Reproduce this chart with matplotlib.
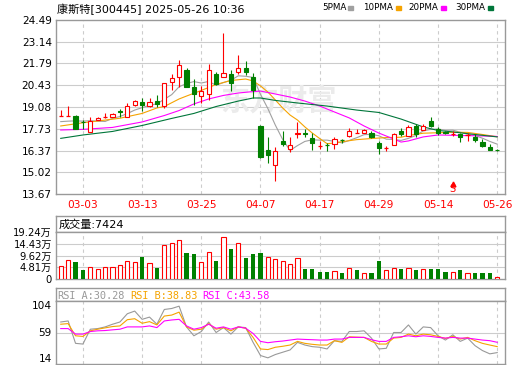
import matplotlib
matplotlib.use('Agg')
import matplotlib.pyplot as plt
from matplotlib.patches import Rectangle

plt.rcParams['font.family'] = ['DejaVu Sans', 'Noto Sans CJK SC']

W, H = 520, 365
RED = '#ff0000'
GREEN = '#008000'
GRID = '#cccccc'
EDGE = '#999999'

title = '康斯特[300445] 2025-05-26 10:36'

# x axis labels (candle index -> date)
dates = ['03-03', '03-13', '03-25', '04-07', '04-17', '04-29', '05-14', '05-26']
date_idx = [3, 11, 19, 27, 35, 43, 51, 59]

# daily candles 02-26 .. 05-26
opens = [18.52, 18.54, 18.55, 18.16, 17.54, 18.27, 18.43, 18.48, 18.82, 18.48,
         19.20, 19.41, 19.16, 19.47, 19.17, 20.65, 20.96, 21.38, 20.34, 19.78,
         19.87, 21.11, 20.96, 21.11, 21.24, 21.52, 20.96, 17.90, 16.41, 15.47,
         16.98, 16.45, 17.40, 17.47, 17.13, 16.65, 16.74, 16.78, 17.00, 17.28,
         17.48, 17.48, 17.45, 16.86, 16.50, 16.72, 17.59, 17.28, 17.90, 17.65,
         18.21, 17.69, 17.50, 17.43, 17.38, 17.33, 17.23, 16.92, 16.61, 16.42]
highs = [18.89, 19.16, 18.58, 18.27, 18.44, 18.46, 18.73, 18.73, 18.96, 19.33,
         19.52, 19.62, 19.66, 19.83, 20.57, 21.11, 22.00, 21.50, 20.80, 20.40,
         21.74, 21.26, 23.70, 21.38, 22.31, 21.94, 21.18, 17.95, 17.23, 16.61,
         17.59, 17.20, 18.17, 17.69, 17.45, 16.98, 16.86, 17.20, 17.07, 17.76,
         17.69, 17.69, 17.59, 16.98, 16.65, 17.48, 17.76, 17.96, 18.02, 18.02,
         18.44, 17.85, 17.60, 17.60, 17.48, 17.45, 17.38, 17.07, 16.76, 16.47]
lows = [18.50, 18.50, 17.70, 17.73, 17.54, 18.25, 18.42, 18.48, 18.48, 18.48,
        19.14, 18.83, 19.08, 19.08, 19.02, 20.14, 20.34, 20.32, 19.20, 19.31,
        19.52, 20.45, 20.95, 20.08, 21.13, 21.07, 19.66, 15.91, 15.58, 14.50,
        16.66, 16.30, 17.13, 17.20, 16.41, 16.45, 16.36, 16.45, 16.86, 17.21,
        17.45, 17.46, 17.15, 16.14, 16.36, 16.70, 17.28, 17.27, 17.23, 17.63,
        17.82, 17.34, 17.38, 17.28, 16.92, 16.96, 16.92, 16.62, 16.39, 16.34]
closes = [18.54, 18.56, 17.71, 18.13, 18.23, 18.38, 18.45, 18.65, 18.74, 19.14,
          19.45, 19.20, 19.37, 19.25, 20.55, 20.86, 21.69, 20.34, 19.87, 20.08,
          21.38, 20.49, 21.18, 20.55, 21.49, 21.24, 20.14, 15.95, 16.10, 16.36,
          16.76, 16.72, 17.45, 17.43, 16.82, 16.67, 16.71, 17.07, 16.98, 17.59,
          17.50, 17.65, 17.20, 16.51, 16.52, 17.40, 17.38, 17.85, 17.40, 17.90,
          17.90, 17.48, 17.47, 17.45, 17.23, 17.34, 17.03, 16.67, 16.41, 16.39]

ma5 = [18.17, 18.20, 18.22, 18.20, 18.23, 18.20, 18.18, 18.37, 18.49, 18.67,
       18.89, 19.04, 19.18, 19.28, 19.56, 19.85, 20.34, 20.54, 20.66, 20.57,
       20.67, 20.43, 20.60, 20.74, 21.02, 20.99, 20.92, 19.87, 18.98, 17.96,
       17.06, 16.38, 16.68, 16.94, 17.04, 17.02, 17.02, 16.94, 16.85, 17.00,
       17.17, 17.36, 17.38, 17.29, 17.08, 17.06, 17.00, 17.13, 17.31, 17.59,
       17.69, 17.71, 17.63, 17.64, 17.51, 17.39, 17.30, 17.14, 16.94, 16.77]
ma10_idx = [0, 3, 5, 8, 11, 13, 14, 16, 17, 19, 21, 23, 25, 26, 27, 28, 29, 30, 31, 32,
            33, 34, 35, 36, 37, 38, 40, 42, 44, 46, 47, 49, 51, 53, 55, 57, 59]
ma10 = [17.90, 18.10, 18.21, 18.38, 18.68, 19.02, 19.11, 19.58, 19.76, 20.11,
        20.48, 20.73, 20.82, 20.70, 20.39, 20.01, 19.52, 19.02, 18.58, 18.27,
        17.84, 17.46, 17.12, 16.80, 16.84, 16.92, 17.05, 17.12, 17.18, 17.20,
        17.31, 17.45, 17.48, 17.51, 17.50, 17.37, 17.23]
ma20_idx = [0, 3, 7, 11, 14, 16, 18, 20, 22, 24, 26, 27, 29, 31, 33, 35, 37, 39, 41, 43,
            45, 46, 47, 49, 51, 54, 57, 59]
ma20 = [17.65, 17.69, 17.81, 18.15, 18.55, 18.86, 19.27, 19.58, 19.80, 19.95,
        20.04, 20.07, 19.89, 19.70, 19.45, 19.14, 18.77, 18.40, 17.90, 17.46,
        17.09, 16.90, 16.97, 17.22, 17.34, 17.31, 17.28, 17.25]
ma30_idx = [0, 3, 7, 11, 15, 18, 21, 24, 26, 27, 29, 32, 36, 40, 43, 46, 49, 51, 53, 56, 59]
ma30 = [17.13, 17.34, 17.56, 17.93, 18.37, 18.68, 19.11, 19.45, 19.64, 19.64,
        19.49, 19.33, 19.14, 18.89, 18.74, 18.33, 17.84, 17.62, 17.53, 17.37, 17.22]

price_ticks = [13.67, 15.02, 16.37, 17.73, 19.08, 20.43, 21.79, 23.14, 24.49]
signal_idx = 53

# volume, 万手
volume = [5.32, 7.64, 6.96, 3.68, 4.77, 4.09, 4.77, 4.77, 5.73, 7.23,
          6.82, 9.00, 6.41, 4.50, 13.78, 14.60, 15.83, 10.64, 10.23, 6.82,
          10.91, 7.37, 17.05, 12.28, 14.60, 8.60, 10.23, 10.70, 8.87, 8.05,
          7.23, 6.14, 8.46, 4.09, 4.09, 2.86, 2.86, 3.14, 2.46, 4.37,
          3.68, 2.32, 2.46, 7.37, 3.55, 4.37, 4.09, 4.37, 3.68, 3.96,
          4.09, 4.09, 2.86, 2.73, 3.68, 2.32, 2.46, 2.46, 2.46, 0.74]
vol_up = [1, 1, 0, 0, 1, 1, 1, 1, 1, 1, 1, 0, 1, 0, 1, 1, 1, 0, 0, 1,
          1, 0, 1, 0, 1, 0, 0, 0, 1, 1, 1, 1, 1, 0, 0, 0, 0, 1, 0, 1,
          0, 1, 0, 0, 1, 1, 0, 1, 0, 1, 0, 0, 0, 1, 0, 1, 0, 0, 0, 1]
vol_ticks = [0, 4.81, 9.62, 14.43, 19.24]
vol_last = 7424

rsi_a = [74, 75.5, 43.5, 42.5, 63.7, 64.6, 67, 70.8, 74, 85.8,
         89.6, 77.8, 81, 70.8, 91.9, 93.3, 96.6, 67, 54.3, 60.4,
         74, 59, 66, 56.7, 67, 66, 44.9, 26.1, 22.8, 27.5,
         30.8, 34.1, 44.9, 41.1, 38.8, 37.9, 35.5, 47.3, 46.3, 60.4,
         60.4, 61.4, 51, 35.5, 36.4, 59, 59, 69.8, 56.7, 67,
         66, 54.3, 48.2, 55.7, 46.3, 51, 40.2, 33.2, 28.5, 30.28]
rsi_b = [70.8, 71.7, 54.3, 53.4, 61.4, 63.7, 65.6, 67.5, 68.4, 77.3,
         78.7, 72.2, 74.5, 69.8, 82.5, 83.9, 88.1, 67, 62.3, 63.7,
         71.7, 63.7, 66, 61.4, 67, 65.1, 52, 35.5, 34.6, 37.9,
         39.3, 41.1, 46.3, 43.5, 42.1, 41.1, 41.1, 47.3, 44.9, 52.9,
         52.4, 52, 46.3, 42.5, 42.5, 51, 52, 56.7, 54.3, 56.7,
         55.7, 53.4, 50.5, 53.4, 49.6, 52, 47.3, 43.5, 41.1, 38.83]
rsi_c = [64.6, 64.6, 56.7, 56.7, 60.4, 61.4, 61.8, 62.8, 63.7, 67,
         67, 67, 68.4, 66, 75.5, 76.9, 77.8, 68.4, 63.7, 66,
         70.8, 65.1, 67, 63.7, 67, 65.1, 57.6, 46.3, 44.4, 45.8,
         46.8, 48.2, 49.6, 49.1, 48.7, 48.2, 48.2, 49.6, 49.6, 52,
         52, 52, 48.7, 46.3, 46.3, 52, 52.9, 54.3, 52.9, 54.3,
         53.4, 52, 51, 52, 51, 51, 49.6, 48.2, 47.3, 45.0]
rsi_ticks = [14, 59, 104]
rsi_now = [30.28, 38.83, 43.58]

MA_COLORS = ['#a0a0a0', '#f5a300', '#ff00ff', '#00763a']
RSI_COLORS = ['#999999', '#f5a300', '#ff00ff']


def box(l, t, r, b):
    return [l / W, 1 - b / H, (r - l) / W, (b - t) / H]


def frame(ax):
    ax.set_xlim(-0.64, 60.05)
    for s in ax.spines.values():
        s.set_color(EDGE)
        s.set_linewidth(1.0)
    ax.tick_params(length=0, labelsize=7.6, pad=3)


def vgrid(ax):
    for i in date_idx:
        ax.axvline(i, color=GRID, lw=0.8, ls=(0, (3, 3)), zorder=0)


fig = plt.figure(figsize=(W / 100, H / 100), dpi=100)
ax_p = fig.add_axes(box(56, 20, 505, 194))
ax_vh = fig.add_axes(box(56, 216, 505, 232))
ax_v = fig.add_axes(box(56, 232, 505, 279))
ax_rh = fig.add_axes(box(56, 288, 505, 301))
ax_r = fig.add_axes(box(56, 301, 505, 364))

# ---- price panel
frame(ax_p)
vgrid(ax_p)
ax_p.set_ylim(price_ticks[0], price_ticks[-1])
ax_p.set_yticks(price_ticks, [f'{t:.2f}' for t in price_ticks])
for t in price_ticks[1:-1]:
    ax_p.axhline(t, color=GRID, lw=0.8, zorder=0)
ax_p.set_xticks(date_idx, dates)
ax_p.tick_params(axis='x', labelcolor=RED, pad=4)
ax_p.text(29.5, 19.45, '东方财富', fontsize=21, color='#ebebeb', weight='bold',
          ha='center', va='center', zorder=0)

ax_p.plot(range(len(ma5)), ma5, color=MA_COLORS[0], lw=0.8, zorder=2)
ax_p.plot(ma10_idx, ma10, color=MA_COLORS[1], lw=0.8, zorder=2)
ax_p.plot(ma20_idx, ma20, color=MA_COLORS[2], lw=0.8, zorder=2)
ax_p.plot(ma30_idx, ma30, color=MA_COLORS[3], lw=0.8, zorder=2)

w = 0.58
for i, (o, h, l, c) in enumerate(zip(opens, highs, lows, closes)):
    col = RED if c >= o else GREEN
    ax_p.vlines(i, l, h, color=col, lw=0.8, zorder=3)
    if abs(c - o) < 0.03:
        ax_p.hlines(o, i - w / 2, i + w / 2, color=col, lw=0.9, zorder=4)
    elif c > o:
        ax_p.add_patch(Rectangle((i - w / 2, o), w, c - o, facecolor='white',
                                 edgecolor=RED, lw=0.8, zorder=4))
    else:
        ax_p.add_patch(Rectangle((i - w / 2, c), w, o - c, facecolor=GREEN,
                                 edgecolor=GREEN, lw=0.8, zorder=4))

ax_p.plot(signal_idx, 14.32, marker='^', color=RED, ms=3.5, zorder=5)
ax_p.text(signal_idx, 13.95, 'S', color=RED, fontsize=7, ha='center', va='center', zorder=5)

# ---- volume panel
for ax in (ax_vh, ax_rh):
    frame(ax)
    ax.set_xticks([])
    ax.set_yticks([])
ax_vh.text(0.005, 0.45, f'成交量:{vol_last}', transform=ax_vh.transAxes,
           fontsize=8, va='center')

frame(ax_v)
vgrid(ax_v)
ax_v.set_ylim(0, vol_ticks[-1])
ax_v.set_xticks([])
ax_v.set_yticks(vol_ticks, ['0'] + [f'{t:.2f}万' for t in vol_ticks[1:]])
ax_v.tick_params(axis='y', labelsize=7.2)
for t in vol_ticks[1:-1]:
    ax_v.axhline(t, color=GRID, lw=0.8, zorder=0)
for i, (v, up) in enumerate(zip(volume, vol_up)):
    if up:
        ax_v.bar(i, v, width=w, facecolor='white', edgecolor=RED, lw=0.8, zorder=3)
    else:
        ax_v.bar(i, v, width=w, color=GREEN, zorder=3)

# ---- RSI panel
names = ['RSI_A', 'RSI_B', 'RSI_C']
for x_px, name, val, col in zip([57, 130, 202], names, rsi_now, RSI_COLORS):
    ax_rh.text((x_px - 56) / 449, 0.45, f'{name}:{val:.2f}', transform=ax_rh.transAxes,
               fontsize=7.4, color=col, va='center', family='DejaVu Sans Mono')

frame(ax_r)
vgrid(ax_r)
ax_r.set_ylim(rsi_ticks[0], rsi_ticks[-1])
ax_r.set_xticks([])
ax_r.set_yticks(rsi_ticks, [str(t) for t in rsi_ticks])
for lab, va in zip(ax_r.get_yticklabels(), ['bottom', 'center', 'top']):
    lab.set_va(va)
ax_r.axhline(rsi_ticks[1], color=GRID, lw=0.8, zorder=0)
for series, col in zip([rsi_a, rsi_b, rsi_c], RSI_COLORS):
    ax_r.plot(range(len(series)), series, color=col, lw=0.8, zorder=2)

# ---- header
fig.text(57 / W, 1 - 9 / H, title, fontsize=8, va='center')
legend = [('5PMA', 322), ('10PMA', 363), ('20PMA', 408), ('30PMA', 455)]
for (name, x_px), col in zip(legend, MA_COLORS):
    t = fig.text(x_px / W, 1 - 8 / H, name, fontsize=6.3, va='center')
    fig.patches.append(Rectangle(((x_px + 6.1 * len(name) + 2) / W, 1 - 10 / H), 5 / W, 4 / H,
                                 transform=fig.transFigure, color=col))

fig.savefig('out.png', dpi=100)
